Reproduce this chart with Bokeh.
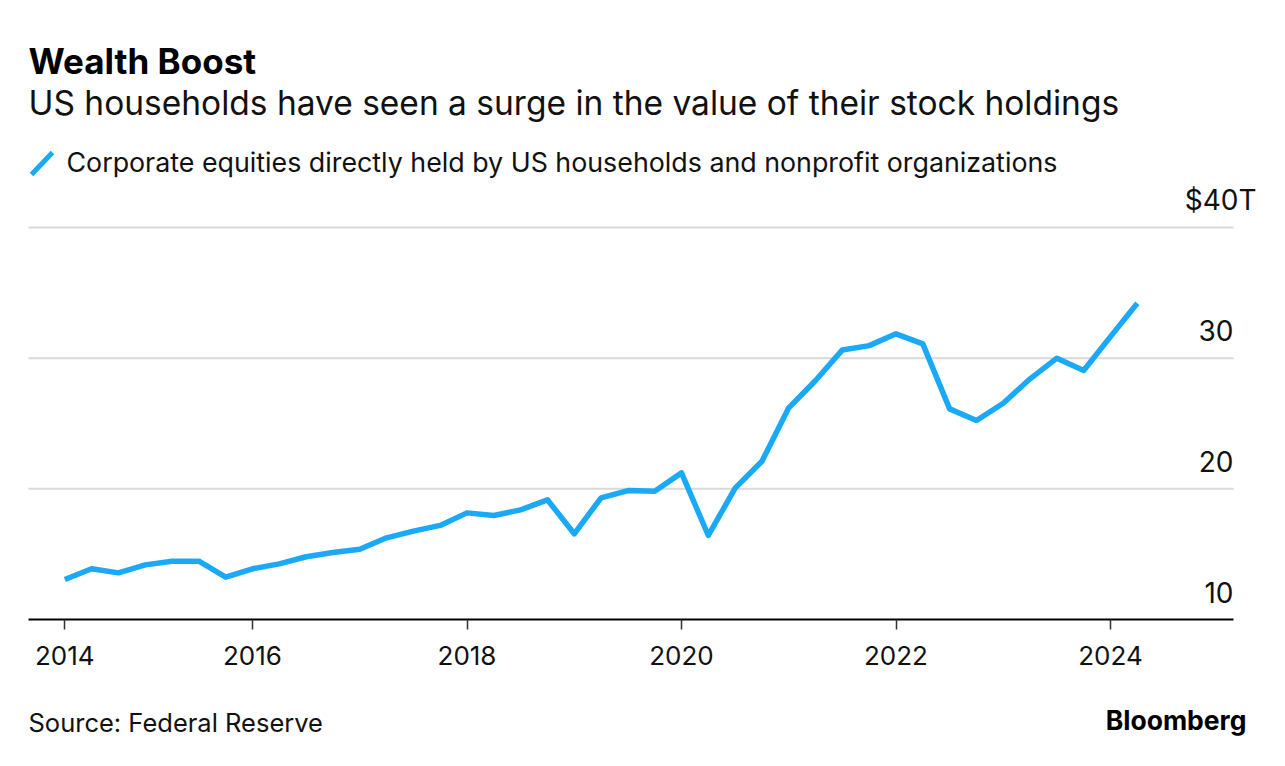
from bokeh.plotting import figure
from bokeh.models import (ColumnDataSource, FixedTicker, Label, LabelSet, Arrow, Range1d)
from bokeh.layouts import column
from bokeh.embed import file_html
from bokeh.resources import INLINE
from bokeh.core.properties import value

# ---------------- data ----------------
quarters = [f"{y}Q{q}" for y in range(2014, 2025) for q in range(1, 5)][:41]  # 2014Q1..2024Q1
equities = [13.06, 13.88, 13.57, 14.18, 14.46, 14.46, 13.24, 13.88, 14.26, 14.80,
            15.13, 15.38, 16.25, 16.76, 17.20, 18.16, 17.96, 18.39, 19.16, 16.56,
            19.31, 19.87, 19.82, 21.22, 16.43, 20.05, 22.11, 26.20, 28.29, 30.63,
            30.96, 31.86, 31.09, 26.12, 25.23, 26.55, 28.42, 30.00, 29.05, 31.65,
            34.20]
# quarter-end expressed as fractional year
xs = [int(q[:4]) + int(q[5]) / 4 for q in quarters]

x_tick_values = [2014.25, 2016, 2018, 2020, 2022, 2024]
x_tick_labels = ["2014", "2016", "2018", "2020", "2022", "2024"]
y_grid_values = [20, 30, 40]
y_tick_values = [10, 20, 30, 40]
y_tick_labels = ["10", "20", "30", "$40T"]

TITLE = "Wealth Boost"
SUBTITLE = "US households have seen a surge in the value of their stock holdings"
SERIES = "Corporate equities directly held by US households and nonprofit organizations"
SOURCE = "Source: Federal Reserve"
BRAND = "Bloomberg"

# ---------------- style / geometry ----------------
FONT = "Inter"
BLUE = "#1aa9f5"
INK = "#111111"
W = 1277
H_TOP = 680
FRAME_BOTTOM = 619          # px from top of the chart canvas
PX_PER_YEAR = 107.25
PX_PER_UNIT = 13.067
AX_START, AX_END = 2013.9114, 2025.1469        # extent of axis line / grid
X_START = 2016 - 252 / PX_PER_YEAR
X_END = 2016 + (W - 252) / PX_PER_YEAR
Y_START = 10
Y_END = 10 + FRAME_BOTTOM / PX_PER_UNIT

p = figure(width=W, height=H_TOP, output_backend="svg", toolbar_location=None,
           x_range=Range1d(X_START, X_END), y_range=Range1d(Y_START, Y_END),
           y_axis_location=None,
           min_border_left=0, min_border_right=0, min_border_top=0,
           min_border_bottom=H_TOP - FRAME_BOTTOM, outline_line_color=None,
           background_fill_color="white", border_fill_color="white")
for g in p.grid:
    g.visible = False

# horizontal grid lines (ending where the axis ends)
p.segment(x0=[AX_START] * len(y_grid_values), x1=[AX_END] * len(y_grid_values),
          y0=y_grid_values, y1=y_grid_values, line_color="#d9d9d9", line_width=2)

ax = p.xaxis[0]
ax.bounds = (AX_START, AX_END)
ax.ticker = FixedTicker(ticks=x_tick_values)
ax.major_label_overrides = dict(zip(x_tick_values, x_tick_labels))
ax.axis_line_color = "black"
ax.axis_line_width = 2
ax.major_tick_in = 0
ax.major_tick_out = 10
ax.major_tick_line_color = "#333333"
ax.major_tick_line_width = 1.5
ax.minor_tick_line_color = None
ax.major_label_standoff = 16
ax.major_label_text_font = FONT
ax.major_label_text_font_size = "26px"
ax.major_label_text_color = INK

p.line(xs, equities, line_color=BLUE, line_width=5.5, line_join="round")

ysrc = ColumnDataSource(dict(x=[AX_END] * len(y_tick_values), y=y_tick_values,
                             text=y_tick_labels, dx=[0, 0, 0, 23]))
p.add_layout(LabelSet(x="x", y="y", text="text", source=ysrc, x_offset="dx",
                      y_offset=17, text_align="right", text_baseline="alphabetic",
                      text_font=value(FONT), text_font_size="28px",
                      text_color=INK))


def lab(fig, text, x, y, size, bold=False, align="left", color=INK):
    fig.add_layout(Label(x=x, y=y, x_units="screen", y_units="screen", text=text,
                         text_font=FONT, text_font_size=size,
                         text_font_style="bold" if bold else "normal",
                         text_align=align, text_baseline="alphabetic",
                         text_color=color))


# header (screen units: y measured up from the frame bottom)
lab(p, TITLE, 28, FRAME_BOTTOM - 60, "35px", bold=True, color="#000000")
lab(p, SUBTITLE, 28, FRAME_BOTTOM - 102, "33.5px")
lab(p, SERIES, 66, FRAME_BOTTOM - 161, "26.8px")
p.add_layout(Arrow(end=None, x_start=31, y_start=FRAME_BOTTOM - 174,
                   x_end=52, y_end=FRAME_BOTTOM - 152,
                   start_units="screen", end_units="screen",
                   line_color=BLUE, line_width=5))

# footer figure
H_BOT = 80
f = figure(width=W, height=H_BOT, output_backend="svg", toolbar_location=None,
           x_range=Range1d(0, W), y_range=Range1d(0, H_BOT),
           x_axis_location=None, y_axis_location=None,
           min_border_left=0, min_border_right=0, min_border_top=0,
           min_border_bottom=0, outline_line_color=None,
           background_fill_color="white", border_fill_color="white")
for g in f.grid:
    g.visible = False
lab(f, SOURCE, 28, H_TOP + H_BOT - 722, "25.5px")
lab(f, BRAND, 1246, H_TOP + H_BOT - 719, "26.5px", bold=True, align="right",
    color="#000000")

open("out.html", "w").write(file_html(column(p, f), INLINE))
